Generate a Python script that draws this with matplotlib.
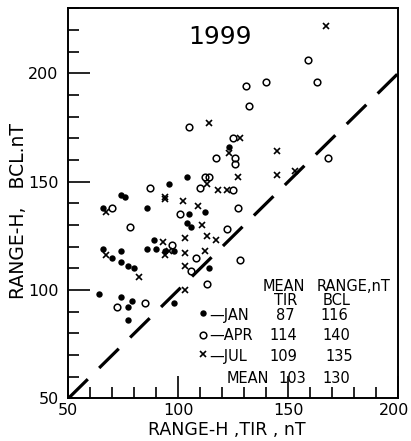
import matplotlib.pyplot as plt
import matplotlib.transforms as mtransforms

plt.rcParams['font.family'] = ['DejaVu Sans']

# Monthly points (TIR range, BCL range), nT
jan_tir = [123, 104, 96, 74, 76, 112, 86, 66, 105, 104, 106, 89, 86, 90, 94,
           98, 114, 66, 70, 74, 74, 77, 80, 64, 74, 79, 77, 77, 98]
jan_bcl = [166, 152, 149, 144, 143, 136, 138, 138, 135, 131, 129, 123, 119, 119, 118,
           118, 110, 119, 115, 118, 113, 111, 110, 98, 97, 95, 92, 86, 94]

apr_tir = [159, 163, 140, 131, 132, 105, 125, 126, 126, 117, 168, 112, 114, 87,
           110, 125, 127, 70, 101, 122, 78, 97, 108, 106, 128, 113, 72, 85]
apr_bcl = [206, 196, 196, 194, 185, 175, 170, 161, 158, 161, 161, 152, 152, 147,
           147, 146, 138, 138, 135, 128, 129, 121, 115, 109, 114, 103, 92, 94]

jul_tir = [167, 114, 128, 123, 145, 145, 153, 127, 94, 94, 113, 118, 122, 102,
           109, 67, 111, 113, 117, 103, 93, 94, 96, 103, 112, 103, 103, 67, 82]
jul_bcl = [222, 177, 170, 163, 164, 153, 155, 152, 143, 142, 149, 146, 146, 141,
           139, 136, 130, 125, 123, 124, 122, 116, 118, 117, 118, 111, 100, 116, 106]

months = ['JAN', 'APR', 'JUL']
mean_tir = [87, 114, 109]
mean_bcl = [116, 140, 135]
overall_mean = [103, 130]

fig = plt.figure(figsize=(4.11, 4.41), dpi=100)
ax = fig.add_axes([0.166, 0.0964, 0.803, 0.885])

ax.plot(jan_tir, jan_bcl, 'o', color='k', ms=4.6, mew=0)
ax.plot(apr_tir, apr_bcl, 'o', mfc='none', mec='k', ms=4.8, mew=1.1)
ax.plot(jul_tir, jul_bcl, 'x', color='k', ms=4.4, mew=1.2)

# 1:1 line
ax.plot([50, 200], [50, 200], color='k', lw=2.3, dashes=(8.6, 5.0))

ax.set_xlim(50, 200)
ax.set_ylim(50, 230)
ax.set_xticks([50, 100, 150, 200])
ax.set_yticks([50, 100, 150, 200])
ax.set_xticks(range(50, 201, 10), minor=True)
ax.set_yticks(range(50, 231, 10), minor=True)
ax.tick_params(which='both', direction='in', top=False, right=False, width=1.2,
               labelsize=11.5)
ax.tick_params(axis='x', which='both', pad=3)
ax.tick_params(axis='y', which='both', pad=7)
ax.tick_params(which='major', length=15.5)
ax.tick_params(which='minor', length=8)
for s in ax.spines.values():
    s.set_linewidth(1.4)

# nudge the last x label so it stays inside the figure
lbl = ax.get_xticklabels()[-1]
lbl.set_transform(lbl.get_transform() + mtransforms.ScaledTranslation(-4 / 100, 0, fig.dpi_scale_trans))

fig.text(227 / 411, 1 - 430 / 441, 'RANGE-H ,TIR , nT', fontsize=12.5,
         ha='center', va='center')
fig.text(19 / 411, 1 - 211 / 441, 'RANGE-H,   BCL.nT', fontsize=13.5,
         ha='center', va='center', rotation=90)

ax.text(119, 216.8, '1999', fontsize=18, ha='center', va='center')

# legend table
fs = 10.5
ax.text(138.5, 101.8, 'MEAN', fontsize=fs, va='center', ha='left')
ax.text(163, 101.8, 'RANGE,nT', fontsize=fs, va='center', ha='left')
ax.text(149, 95.3, 'TIR', fontsize=fs, va='center', ha='center')
ax.text(172, 95.3, 'BCL', fontsize=fs, va='center', ha='center')
rows_y = [88.4, 79.2, 69.2, 59.4]
tir_x = [148.5, 147.6, 147.6, 151.7]
bcl_x = [170.8, 171.7, 173.0, 171.7]
ax.plot(111.3, rows_y[0] + 0.8, 'o', color='k', ms=4.6, mew=0)
ax.plot(111.3, rows_y[1], 'o', mfc='none', mec='k', ms=4.8, mew=1.1)
ax.plot(111.3, rows_y[2] + 1.5, 'x', color='k', ms=4.4, mew=1.2)
for i, m in enumerate(months):
    ax.text(114.3, rows_y[i], '\u2014' + m, fontsize=fs, va='center', ha='left')
    ax.text(tir_x[i], rows_y[i], str(mean_tir[i]), fontsize=fs, va='center', ha='center')
    ax.text(bcl_x[i], rows_y[i], str(mean_bcl[i]), fontsize=fs, va='center', ha='center')
ax.text(121.8, rows_y[3], 'MEAN', fontsize=fs, va='center', ha='left')
ax.text(tir_x[3], rows_y[3], str(overall_mean[0]), fontsize=fs, va='center', ha='center')
ax.text(bcl_x[3], rows_y[3], str(overall_mean[1]), fontsize=fs, va='center', ha='center')

fig.savefig('out.png', dpi=100)
